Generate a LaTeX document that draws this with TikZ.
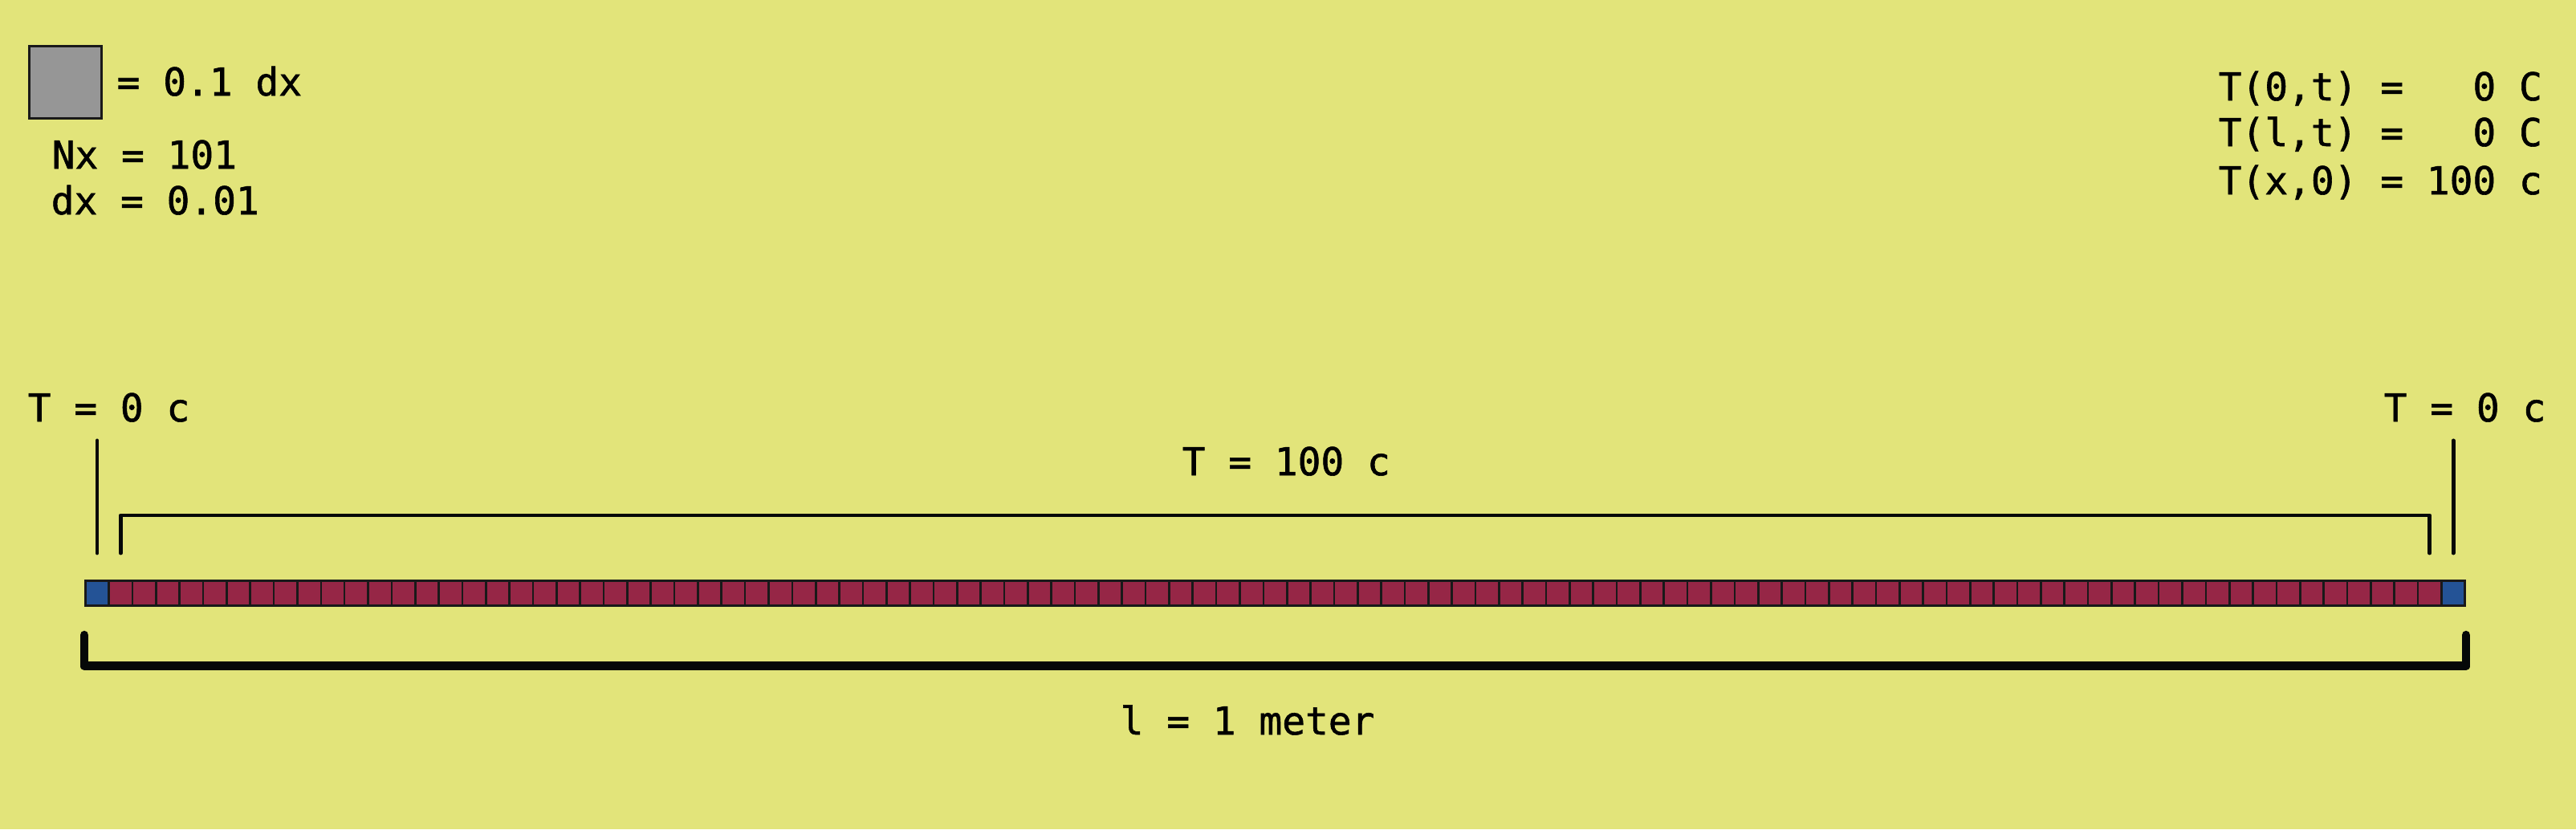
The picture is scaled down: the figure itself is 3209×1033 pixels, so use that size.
\documentclass[tikz,border=0pt]{standalone}
\usepackage{xcolor}
\usepackage{fontspec}
\setmonofont{DejaVu Sans Mono}[FakeBold=1.2]
\usepackage{tikz}
\usetikzlibrary{positioning, calc}

\definecolor{bgyellow}{RGB}{226,228,122}
\definecolor{cellred}{RGB}{150,38,70}
\definecolor{cellblue}{RGB}{36,83,150}
\definecolor{keygray}{RGB}{150,150,150}
\definecolor{inkblack}{RGB}{5,8,8}

\begin{document}
\begin{tikzpicture}[
  x=0.01cm, y=-0.01cm,
  every node/.style={font=\ttfamily\fontsize{13.6}{16.4}\selectfont, inner sep=0pt},
  lbl/.style={anchor=base west},
  cell/.style={rectangle, draw=black!90, line width=0.75pt, fill=cellred,
               minimum width=0.2935cm, minimum height=0.31cm, anchor=north west},
  endcell/.style={cell, fill=cellblue},
  keybox/.style={rectangle, draw=black!90, line width=0.75pt, fill=keygray,
                 minimum size=0.9cm, anchor=north west},
  pointer/.style={draw=inkblack, line width=1.4pt, line cap=round, line join=round},
  span/.style={draw=inkblack, line width=3.1pt, line cap=round, line join=round},
]
% background
\fill[bgyellow] (0,0) rectangle (3209,1033);

% key and grid values
\node[keybox] (key) at (35,56) {};
\node[lbl] (keytxt) at (145,119) {= 0.1 dx};
\node[lbl] (nx) at (64,210) {Nx = 101};
\node[lbl] (dx) at (63,267) {dx = 0.01};

% boundary and initial conditions
\node[lbl] (bc0) at (2763,125) {T(0,t) =\ \ \ 0 C};
\node[lbl] (bcl) at (2763,182) {T(l,t) =\ \ \ 0 C};
\node[lbl] (ic)  at (2763,242) {T(x,0) = 100 c};

% the rod: 101 cells
\node[endcell] (c1) at (105,722) {};
\foreach \i in {2,...,100}
  \node[cell] (c\i) at ({105+(\i-1)*29.35},722) {};
\node[endcell] (c101) at ({105+100*29.35},722) {};

% labels over the rod
\node[lbl] (tleft)  at (34,525)   {T = 0 c};
\node[lbl] (tright) at (2969,525) {T = 0 c};
\node[lbl] (tmid)   at (1472,592) {T = 100 c};
\node[lbl] (len)    at (1395,915) {l = 1 meter};

% pointers to the end cells
\draw[pointer] ([yshift=0.33cm]c1.north) -- ([yshift=1.73cm]c1.north);
\draw[pointer] ([yshift=0.33cm]c101.north) -- ([yshift=1.73cm]c101.north);
% bracket over the inner cells
\draw[pointer] ([yshift=0.33cm]c2.north) |- ([yshift=0.8cm]c100.north)
               -- ([yshift=0.33cm]c100.north);
% length bracket
\draw[span] ([yshift=-0.355cm]c1.south west) |- ([yshift=-0.74cm]c101.south east)
            -- ([yshift=-0.355cm]c101.south east);
\end{tikzpicture}
\end{document}
